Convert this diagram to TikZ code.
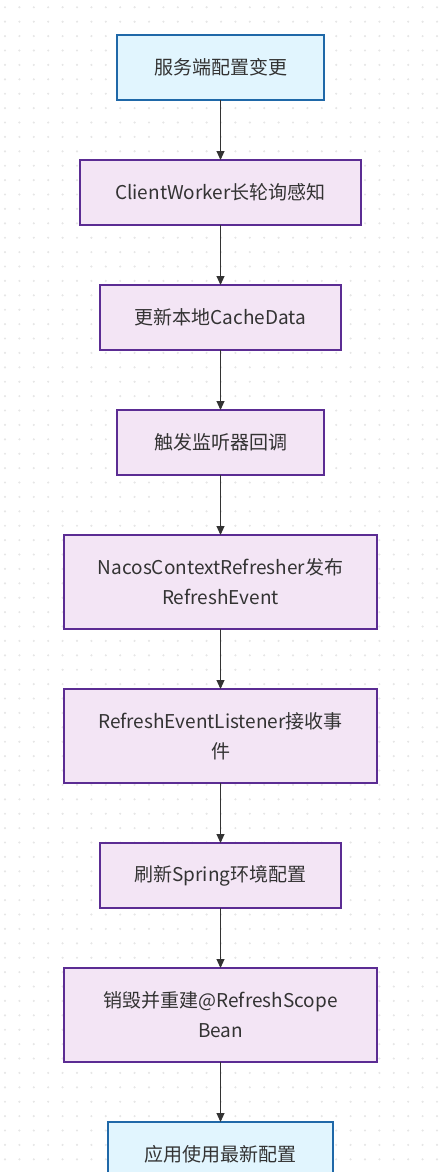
\documentclass[tikz,border=0pt]{standalone}
\usepackage{fontspec}
\setmainfont{Noto Sans CJK SC}
\usepackage{tikz}
\usetikzlibrary{arrows.meta, positioning}

\definecolor{endfill}{HTML}{E1F5FE}
\definecolor{endline}{HTML}{1F68A8}
\definecolor{stepfill}{HTML}{F3E5F5}
\definecolor{stepline}{HTML}{5B2C93}
\definecolor{inkgray}{HTML}{333333}
\definecolor{dotgray}{HTML}{E6E6E6}

\begin{document}
\begin{tikzpicture}[x=1pt, y=-1pt, node distance=60pt, >={Triangle[length=9pt, width=8pt]},
    endbox/.style={draw=endline, fill=endfill, line width=2pt, outer sep=0pt, minimum height=65pt, align=center, text=inkgray, font={\fontsize{19}{30}\selectfont}},
    stepbox/.style={draw=stepline, fill=stepfill, line width=2pt, outer sep=0pt, minimum height=65pt, align=center, text=inkgray, font={\fontsize{19}{30}\selectfont}},
    flow/.style={->, draw=inkgray, fill=inkgray, line width=1pt}]
    \useasboundingbox (0,0) rectangle (440,1172);
    % dotted background
    \foreach \i in {0,...,30}
        \foreach \j in {0,...,81}
            \fill[dotgray] (5+14.4*\i, 7.3+14.4*\j) circle (1.2);

    \node[endbox, minimum width=207pt] (change) at (220.5,67.5) {服务端配置变更};
    \node[stepbox, minimum width=281pt, below=of change] (poll) {ClientWorker长轮询感知};
    \node[stepbox, minimum width=241pt, below=of poll] (cache) {更新本地CacheData};
    \node[stepbox, minimum width=207pt, below=of cache] (listener) {触发监听器回调};
    \node[stepbox, minimum width=313pt, minimum height=94pt, below=of listener] (publish) {NacosContextRefresher发布\\RefreshEvent};
    \node[stepbox, minimum width=313pt, minimum height=94pt, below=of publish] (receive) {RefreshEventListener接收事\\件};
    \node[stepbox, minimum width=241pt, below=of receive] (env) {刷新Spring环境配置};
    \node[stepbox, minimum width=313pt, minimum height=94pt, below=of env] (rebuild) {销毁并重建@RefreshScope\\Bean};
    \node[endbox, minimum width=225pt, below=of rebuild] (apply) {应用使用最新配置};

    \draw[flow] (change) -- (poll);
    \draw[flow] (poll) -- (cache);
    \draw[flow] (cache) -- (listener);
    \draw[flow] (listener) -- (publish);
    \draw[flow] (publish) -- (receive);
    \draw[flow] (receive) -- (env);
    \draw[flow] (env) -- (rebuild);
    \draw[flow] (rebuild) -- (apply);
\end{tikzpicture}
\end{document}
